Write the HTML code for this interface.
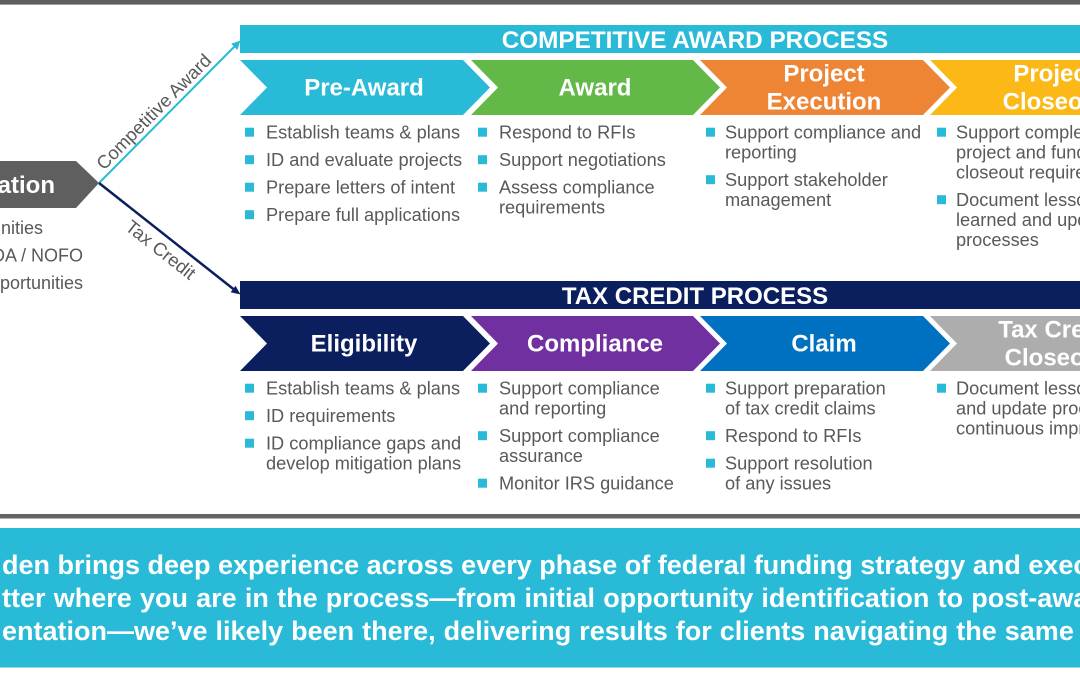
<!DOCTYPE html>
<html>
<head>
<meta charset="utf-8">
<style>
  html,body{margin:0;padding:0;background:#fff;}
  body{width:1080px;height:675px;overflow:hidden;position:relative;font-family:"Liberation Sans",Arial,sans-serif;}
  svg{position:absolute;left:0;top:0;}
  .wrap{position:absolute;left:0;top:528px;width:1080px;height:140px;overflow:hidden;}
  .pl{position:absolute;left:2px;font-weight:bold;font-size:27px;line-height:33px;color:#fff;white-space:nowrap;}
</style>
</head>
<body>
<svg width="1080" height="675" viewBox="0 0 1080 675" xmlns="http://www.w3.org/2000/svg" font-family="Liberation Sans, Arial, sans-serif">
  <!-- top gray rule -->
  <rect x="0" y="0" width="1080" height="4" fill="#5f5f5f"/>
  <rect x="0" y="4" width="1080" height="1" fill="#a0a0a0"/>

  <!-- left gray box -->
  <polygon points="-10,161 76,161 99,183 76,208 -10,208" fill="#5f5f5f"/>
  <text x="55" y="193" text-anchor="end" font-size="24" font-weight="bold" fill="#fff">Identification</text>
  <g font-size="18" fill="#595959" text-anchor="end">
    <text x="43" y="234">Identify opportunities</text>
    <text x="83" y="261.5">Review FOA / NOFO</text>
    <text x="83" y="289">Prioritize opportunities</text>
  </g>

  <!-- connectors -->
  <line x1="99" y1="183" x2="235" y2="46" stroke="#28bad6" stroke-width="2"/>
  <polygon points="240.5,40.5 237.4,50 231.2,43.8" fill="#28bad6"/>
  <line x1="99" y1="183" x2="234" y2="289.5" stroke="#0b1f5e" stroke-width="2.5"/>
  <polygon points="240.5,294.5 230.6,292.3 235.6,285.9" fill="#0b1f5e"/>
  <text transform="translate(154,112) rotate(-45.2)" x="0" y="6" text-anchor="middle" font-size="18.5" fill="#595959">Competitive Award</text>
  <text transform="translate(160.5,250) rotate(38.2)" x="0" y="6" text-anchor="middle" font-size="18.5" fill="#595959">Tax Credit</text>

  <!-- COMPETITIVE AWARD header -->
  <rect x="240" y="25" width="845" height="28" fill="#28bad6"/>
  <text x="695" y="48" text-anchor="middle" font-size="24.3" font-weight="bold" fill="#fff">COMPETITIVE AWARD PROCESS</text>

  <!-- Row 1 chevrons -->
  <polygon points="240,60 463,60 490,87.5 463,115 240,115 267,87.5" fill="#28bad6"/>
  <polygon points="471,60 693,60 720,87.5 693,115 471,115 498,87.5" fill="#62b947"/>
  <polygon points="700,60 923,60 950,87.5 923,115 700,115 727,87.5" fill="#ee8535"/>
  <polygon points="930,60 1153,60 1180,87.5 1153,115 930,115 957,87.5" fill="#fbb817"/>
  <g font-size="24" font-weight="bold" fill="#fff" text-anchor="middle">
    <text x="364" y="95.5">Pre-Award</text>
    <text x="595" y="95.5">Award</text>
    <text x="824" y="81.5">Project</text>
    <text x="824" y="109.5">Execution</text>
    <text x="1054" y="81.5">Project</text>
    <text x="1054" y="109.5">Closeout</text>
  </g>

  <!-- Row 1 bullets -->
  <g fill="#28bad6">
    <rect x="245" y="127.7" width="9" height="9"/>
    <rect x="245" y="155.2" width="9" height="9"/>
    <rect x="245" y="182.7" width="9" height="9"/>
    <rect x="245" y="210.2" width="9" height="9"/>
    <rect x="478" y="127.7" width="9" height="9"/>
    <rect x="478" y="155.2" width="9" height="9"/>
    <rect x="478" y="182.7" width="9" height="9"/>
    <rect x="706" y="127.7" width="9" height="9"/>
    <rect x="706" y="175.2" width="9" height="9"/>
    <rect x="937" y="127.7" width="9" height="9"/>
    <rect x="937" y="195.2" width="9" height="9"/>
  </g>
  <g font-size="18.2" fill="#595959">
    <text x="266" y="138.3">Establish teams &amp; plans</text>
    <text x="266" y="165.8">ID and evaluate projects</text>
    <text x="266" y="193.3">Prepare letters of intent</text>
    <text x="266" y="220.8">Prepare full applications</text>

    <text x="499" y="138.3">Respond to RFIs</text>
    <text x="499" y="165.8">Support negotiations</text>
    <text x="499" y="193.3">Assess compliance</text>
    <text x="499" y="213.3">requirements</text>

    <text x="725" y="138.3">Support compliance and</text>
    <text x="725" y="158.3">reporting</text>
    <text x="725" y="185.8">Support stakeholder</text>
    <text x="725" y="205.8">management</text>

    <text x="956" y="138.3">Support complete</text>
    <text x="956" y="158.3">project and funding</text>
    <text x="956" y="178.3">closeout requirements</text>
    <text x="956" y="205.8">Document lessons</text>
    <text x="956" y="225.8">learned and update</text>
    <text x="956" y="245.8">processes</text>
  </g>

  <!-- TAX CREDIT header -->
  <rect x="240" y="281" width="845" height="28" fill="#0b1f5e"/>
  <text x="695" y="304" text-anchor="middle" font-size="24" font-weight="bold" fill="#fff">TAX CREDIT PROCESS</text>

  <!-- Row 2 chevrons -->
  <polygon points="240,316 463,316 490,343.5 463,371 240,371 267,343.5" fill="#0b1f5e"/>
  <polygon points="471,316 693,316 720,343.5 693,371 471,371 498,343.5" fill="#7030a0"/>
  <polygon points="700,316 923,316 950,343.5 923,371 700,371 727,343.5" fill="#0070c0"/>
  <polygon points="930,316 1153,316 1180,343.5 1153,371 930,371 957,343.5" fill="#adadad"/>
  <g font-size="24" font-weight="bold" fill="#fff" text-anchor="middle">
    <text x="364" y="351.5">Eligibility</text>
    <text x="595" y="351.5">Compliance</text>
    <text x="824" y="351.5">Claim</text>
    <text x="1056" y="337.5">Tax Credit</text>
    <text x="1056" y="365.5">Closeout</text>
  </g>

  <!-- Row 2 bullets -->
  <g fill="#28bad6">
    <rect x="245" y="383.7" width="9" height="9"/>
    <rect x="245" y="411.2" width="9" height="9"/>
    <rect x="245" y="438.7" width="9" height="9"/>
    <rect x="478" y="383.7" width="9" height="9"/>
    <rect x="478" y="431.2" width="9" height="9"/>
    <rect x="478" y="478.7" width="9" height="9"/>
    <rect x="706" y="383.7" width="9" height="9"/>
    <rect x="706" y="431.2" width="9" height="9"/>
    <rect x="706" y="458.7" width="9" height="9"/>
    <rect x="937" y="383.7" width="9" height="9"/>
  </g>
  <g font-size="18.2" fill="#595959">
    <text x="266" y="394.3">Establish teams &amp; plans</text>
    <text x="266" y="421.8">ID requirements</text>
    <text x="266" y="449.3">ID compliance gaps and</text>
    <text x="266" y="469.3">develop mitigation plans</text>

    <text x="499" y="394.3">Support compliance</text>
    <text x="499" y="414.3">and reporting</text>
    <text x="499" y="441.8">Support compliance</text>
    <text x="499" y="461.8">assurance</text>
    <text x="499" y="489.3">Monitor IRS guidance</text>

    <text x="725" y="394.3">Support preparation</text>
    <text x="725" y="414.3">of tax credit claims</text>
    <text x="725" y="441.8">Respond to RFIs</text>
    <text x="725" y="469.3">Support resolution</text>
    <text x="725" y="489.3">of any issues</text>

    <text x="956" y="394.3">Document lessons learned</text>
    <text x="956" y="414.3">and update processes for</text>
    <text x="956" y="434.3">continuous improvement</text>
  </g>

  <!-- bottom gray rule -->
  <rect x="0" y="514" width="1080" height="4" fill="#646464"/>
  <rect x="0" y="518" width="1080" height="1" fill="#b0b0b0"/>

  <!-- bottom cyan box -->
  <rect x="0" y="528" width="1080" height="140" fill="#28bad6"/>
  <rect x="0" y="667" width="1080" height="1" fill="#8fd8e8"/>
</svg>

<div class="wrap">
  <div class="pl" style="top:21px;">den brings deep experience across every phase of federal funding strategy and execution.</div>
  <div class="pl" style="top:54px;word-spacing:0.7px;">tter where you are in the process—from initial opportunity identification to post-award</div>
  <div class="pl" style="top:87px;word-spacing:0.5px;">entation—we’ve likely been there, delivering results for clients navigating the same challenges.</div>
</div>
</body>
</html>
